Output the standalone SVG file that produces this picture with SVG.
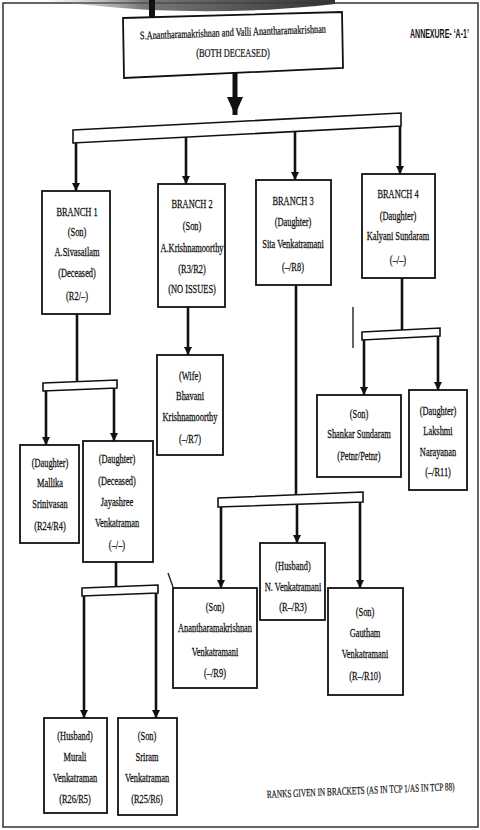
<svg xmlns="http://www.w3.org/2000/svg" width="480" height="830" viewBox="0 0 480 830">
<style>
.box{fill:#fff;stroke:#111;stroke-width:1.8}
.bar{fill:#fff;stroke:#111;stroke-width:1.6}
.ln{stroke:#111;stroke-width:2.6;fill:none}
.ar{stroke:#111;stroke-width:2.6;fill:none;marker-end:url(#ah)}
.t text{font-family:"Liberation Serif","Times New Roman",serif;font-size:11.5px;fill:#111;stroke:#111;stroke-width:0.25;text-anchor:middle}
.art{stroke:#222;stroke-width:1.4;fill:none}
</style>
<defs>
<marker id="ah" markerUnits="userSpaceOnUse" markerWidth="9" markerHeight="9" refX="8" refY="4" orient="auto">
<path d="M0,0 L8,4 L0,8 z" fill="#111"/>
</marker>
<marker id="ahb" markerUnits="userSpaceOnUse" markerWidth="20" markerHeight="18" refX="18" refY="8" orient="auto">
<path d="M0,0 L18,8 L0,16 z" fill="#111"/>
</marker>
<linearGradient id="shade" x1="0" y1="0" x2="1" y2="0">
<stop offset="0" stop-color="#999" stop-opacity="0"/>
<stop offset="0.35" stop-color="#555" stop-opacity="0.8"/>
<stop offset="1" stop-color="#333" stop-opacity="1"/>
</linearGradient>
</defs>
<rect x="0" y="0" width="480" height="830" fill="#fff"/>
<rect x="3" y="3" width="475" height="824" fill="none" stroke="#333" stroke-width="1.5"/>
<path d="M40,0 L335,0 L335,4 Q250,14 150,10 Q90,6 40,0 z" fill="url(#shade)"/>
<line x1="152" y1="0" x2="152" y2="30" stroke="#111" stroke-width="6"/>
<line class="art" x1="353" y1="307" x2="353" y2="348"/>
<line class="art" x1="168" y1="573" x2="173" y2="587"/>

<g id="connectors">
<line x1="235" y1="73" x2="235" y2="115" stroke="#111" stroke-width="5" marker-end="url(#ahb)"/>
<polygon class="bar" points="73,130 401,113 401,126 73,143"/>
<line class="ar" x1="76" y1="143" x2="76" y2="191"/>
<line class="ar" x1="186" y1="137" x2="186" y2="184"/>
<line class="ar" x1="295" y1="131" x2="295" y2="180"/>
<line class="ar" x1="400" y1="126" x2="400" y2="174"/>
<line class="ln" x1="77" y1="314" x2="77" y2="382"/>
<polygon class="bar" points="43,383 117,380 117,388 43,391"/>
<line class="ar" x1="46" y1="391" x2="46" y2="445"/>
<line class="ar" x1="114" y1="388" x2="114" y2="441"/>
<line class="ln" x1="116" y1="562" x2="116" y2="587"/>
<polygon class="bar" points="82,588 158,585 158,593 82,596"/>
<line class="ar" x1="84" y1="596" x2="84" y2="718"/>
<line class="ar" x1="156" y1="593" x2="156" y2="718"/>
<line class="ar" x1="188" y1="307" x2="188" y2="355"/>
<line class="ln" x1="296" y1="285" x2="296" y2="495"/>
<polygon class="bar" points="218,498 363,492 363,502 218,507"/>
<line class="ar" x1="221" y1="507" x2="221" y2="588"/>
<line class="ar" x1="297" y1="504" x2="297" y2="543"/>
<line class="ar" x1="360" y1="502" x2="360" y2="588"/>
<line class="ln" x1="402" y1="278" x2="402" y2="330"/>
<polygon class="bar" points="362,332 440,328 440,336 362,340"/>
<line class="ar" x1="364" y1="340" x2="364" y2="395"/>
<line class="ar" x1="438" y1="336" x2="438" y2="390"/>
</g>

<g id="root">
<polygon class="box" points="123,18 342,12 343,68 124,78"/>
<g class="t" transform="translate(233 0) scale(0.72 1)">
<text y="36" transform="rotate(-1.5 0 36)">S.Anantharamakrishnan and Valli Anantharamakrishnan</text>
<text y="57">(BOTH DECEASED)</text>
</g>
</g>

<g id="annexure" transform="translate(410 38) scale(0.54 1)">
<text x="0" y="0" font-family="Liberation Sans, Arial, sans-serif" font-weight="bold" font-size="13" fill="#111">ANNEXURE- ‘A-1’</text>
</g>

<g id="branch1">
<rect class="box" x="42" y="191" width="68" height="123"/>
<g class="t" transform="translate(77 0) scale(0.73 1)">
<text y="216">BRANCH 1</text><text y="236">(Son)</text><text y="256">A.Sivasailam</text><text y="277">(Deceased)</text><text y="300">(R2/–)</text>
</g>
</g>
<g id="branch2">
<rect class="box" x="158" y="184" width="67" height="123"/>
<g class="t" transform="translate(192 0) scale(0.73 1)">
<text y="208">BRANCH 2</text><text y="230">(Son)</text><text y="252">A.Krishnamoorthy</text><text y="273">(R3/R2)</text><text y="293">(NO ISSUES)</text>
</g>
</g>
<g id="branch3">
<rect class="box" x="256" y="180" width="75" height="105"/>
<g class="t" transform="translate(293 0) scale(0.73 1)">
<text y="205">BRANCH 3</text><text y="226">(Daughter)</text><text y="248">Sita Venkatramani</text><text y="271">(–/R8)</text>
</g>
</g>
<g id="branch4">
<rect class="box" x="362" y="174" width="73" height="104"/>
<g class="t" transform="translate(398 0) scale(0.73 1)">
<text y="198">BRANCH 4</text><text y="220">(Daughter)</text><text y="240">Kalyani Sundaram</text><text y="264">(–/–)</text>
</g>
</g>
<g id="mallika">
<rect class="box" x="20" y="445" width="59" height="98"/>
<g class="t" transform="translate(50 0) scale(0.73 1)">
<text y="467">(Daughter)</text><text y="487">Mallika</text><text y="508">Srinivasan</text><text y="530">(R24/R4)</text>
</g>
</g>
<g id="jayashree">
<rect class="box" x="83" y="441" width="70" height="121"/>
<g class="t" transform="translate(117 0) scale(0.73 1)">
<text y="463">(Daughter)</text><text y="485">(Deceased)</text><text y="506">Jayashree</text><text y="527">Venkatraman</text><text y="549">(–/–)</text>
</g>
</g>
<g id="murali">
<rect class="box" x="44" y="718" width="63" height="95"/>
<g class="t" transform="translate(75 0) scale(0.73 1)">
<text y="740">(Husband)</text><text y="761">Murali</text><text y="782">Venkatraman</text><text y="803">(R26/R5)</text>
</g>
</g>
<g id="sriram">
<rect class="box" x="118" y="718" width="59" height="97"/>
<g class="t" transform="translate(147 0) scale(0.73 1)">
<text y="740">(Son)</text><text y="761">Sriram</text><text y="782">Venkatraman</text><text y="803">(R25/R6)</text>
</g>
</g>
<g id="bhavani">
<rect class="box" x="157" y="355" width="66" height="100"/>
<g class="t" transform="translate(190 0) scale(0.73 1)">
<text y="380">(Wife)</text><text y="400">Bhavani</text><text y="421">Krishnamoorthy</text><text y="443">(–/R7)</text>
</g>
</g>
<g id="anantharamakrishnan">
<rect class="box" x="173" y="588" width="84" height="100"/>
<g class="t" transform="translate(215 0) scale(0.73 1)">
<text y="611">(Son)</text><text y="632">Anantharamakrishnan</text><text y="656">Venkatramani</text><text y="677">(–/R9)</text>
</g>
</g>
<g id="nvenkatramani">
<rect class="box" x="260" y="543" width="65" height="77"/>
<g class="t" transform="translate(293 0) scale(0.73 1)">
<text y="570">(Husband)</text><text y="591">N. Venkatramani</text><text y="611">(R–/R3)</text>
</g>
</g>
<g id="gautham">
<rect class="box" x="328" y="588" width="75" height="107"/>
<g class="t" transform="translate(365 0) scale(0.73 1)">
<text y="616">(Son)</text><text y="637">Gautham</text><text y="658">Venkatramani</text><text y="680">(R–/R10)</text>
</g>
</g>
<g id="shankar">
<rect class="box" x="317" y="395" width="84" height="82"/>
<g class="t" transform="translate(359 0) scale(0.73 1)">
<text y="418">(Son)</text><text y="438">Shankar Sundaram</text><text y="460">(Petnr/Petnr)</text>
</g>
</g>
<g id="lakshmi">
<rect class="box" x="409" y="390" width="58" height="100"/>
<g class="t" transform="translate(438 0) scale(0.73 1)">
<text y="415">(Daughter)</text><text y="435">Lakshmi</text><text y="456">Narayanan</text><text y="476">(–/R11)</text>
</g>
</g>

<g id="footer" transform="translate(267 798) rotate(-2.4) scale(0.66 1)">
<text x="0" y="0" font-family="Liberation Serif, Times New Roman, serif" font-size="11" fill="#111" stroke="#111" stroke-width="0.2">RANKS GIVEN IN BRACKETS (AS IN TCP 1/AS IN TCP 88)</text>
</g>
</svg>
